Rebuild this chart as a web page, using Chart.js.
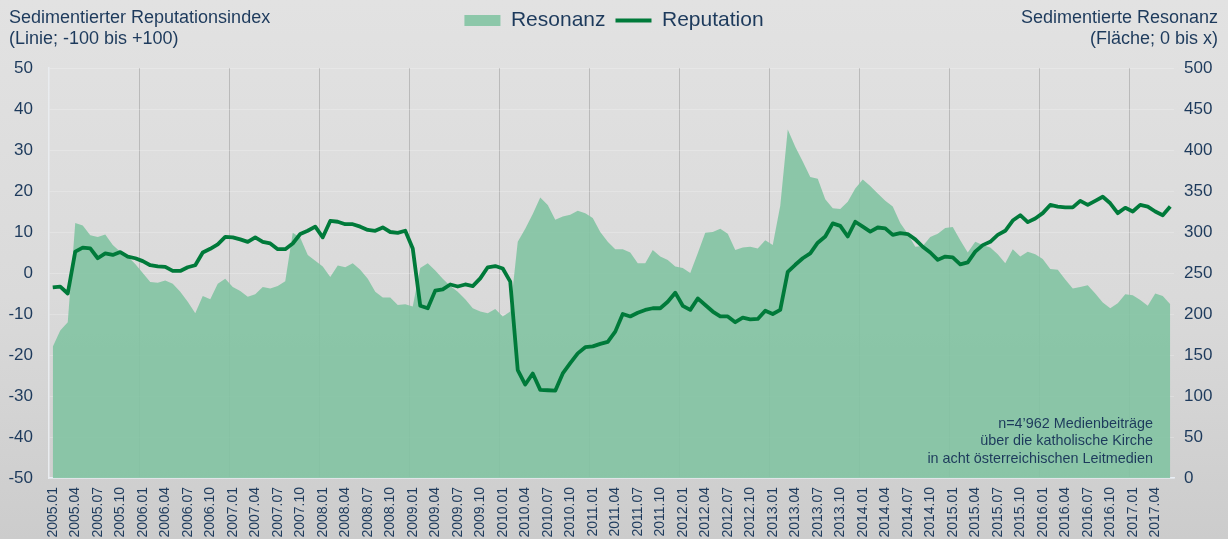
<!DOCTYPE html>
<html><head><meta charset="utf-8">
<script src="https://cdn.jsdelivr.net/npm/chart.js@4.4.0/dist/chart.umd.min.js"></script>
<style>
html,body{margin:0;padding:0;}
body{width:1228px;height:539px;overflow:hidden;background:linear-gradient(to bottom,#e2e2e2 0%,#dadada 55%,#cccccc 100%);}
#wrap{width:1228px;height:539px;position:relative;}
</style></head><body>
<div id="wrap"><canvas id="c" width="1228" height="539"></canvas></div>
<script>
// ---- categories (monthly, 2005.01 – 2017.06)
const firstYear = 2005, lastYear = 2017, lastMonth = 6;
const categories = [];
for (let y = firstYear; y <= lastYear; y++) {
  for (let m = 1; m <= 12; m++) {
    if (y === lastYear && m > lastMonth) break;
    categories.push(y + '.' + String(m).padStart(2, '0'));
  }
}
// months that carry a tick label
const tickMonths = ['01', '04', '07', '10'];
// left axis ticks (Reputation), right axis ticks (Resonanz)
const leftTicks = { min: -50, max: 50, step: 10 };
const rightTicks = { min: 0, max: 500, step: 50 };

// ---- series
const reputation = [
  -3.5, -3.3, -5.0, 5.2, 6.2, 6.0, 3.6, 4.8, 4.4, 5.1, 4.0, 3.6,
  2.9, 1.9, 1.6, 1.5, 0.5, 0.5, 1.4, 1.9, 5.0, 5.9, 7.0, 8.8,
  8.7, 8.2, 7.6, 8.7, 7.6, 7.2, 5.8, 5.8, 7.2, 9.5, 10.3, 11.3,
  8.7, 12.7, 12.5, 11.9, 11.9, 11.3, 10.5, 10.3, 11.1, 10.0, 9.8, 10.3,
  6.0, -8.0, -8.6, -4.3, -4.0, -2.8, -3.3, -2.8, -3.2, -1.3, 1.4, 1.7,
  1.1, -2.1, -23.7, -27.2, -24.5, -28.5, -28.6, -28.7, -24.5, -22.0, -19.6, -18.1,
  -17.9, -17.3, -16.8, -14.3, -10.0, -10.6, -9.7, -9.0, -8.6, -8.6, -7.0, -4.8,
  -8.0, -9.0, -6.2, -7.8, -9.4, -10.6, -10.6, -12.0, -10.9, -11.3, -11.2, -9.2,
  -10.0, -9.0, 0.3, 2.0, 3.6, 4.8, 7.4, 8.9, 12.1, 11.5, 8.9, 12.5,
  11.3, 10.1, 11.1, 10.9, 9.3, 9.7, 9.5, 8.2, 6.4, 5.0, 3.2, 4.0,
  3.8, 2.1, 2.6, 5.2, 6.8, 7.6, 9.3, 10.3, 12.8, 14.1, 12.4, 13.3,
  14.6, 16.6, 16.2, 16.0, 16.0, 17.6, 16.6, 17.6, 18.6, 17.0, 14.6, 15.9,
  15.0, 16.6, 16.2, 15.0, 14.1, 16.2
];
const resonanz = [
  160, 180, 190, 311, 308, 296, 294, 297, 284, 276, 270, 261,
  250, 239, 238, 241, 237, 227, 215, 201, 222, 218, 237, 243,
  233, 228, 221, 224, 233, 231, 234, 240, 299, 293, 272, 265,
  258, 245, 259, 257, 262, 254, 243, 227, 220, 220, 211, 212,
  209, 256, 262, 253, 243, 234, 227, 218, 207, 203, 201, 206,
  197, 203, 288, 304, 322, 342, 333, 315, 319, 321, 326, 323,
  317, 300, 288, 279, 279, 275, 262, 262, 278, 270, 266, 258,
  256, 250, 274, 299, 300, 304, 298, 278, 281, 282, 280, 290,
  284, 332, 425, 404, 386, 367, 365, 340, 329, 328, 337, 353,
  364, 356, 347, 338, 331, 311, 298, 282, 283, 294, 298, 305,
  306, 290, 275, 288, 284, 281, 273, 262, 279, 270, 276, 273,
  267, 255, 254, 242, 231, 233, 235, 225, 214, 207, 213, 224,
  223, 217, 210, 225, 222, 212
];

const leftTitle = ['Sedimentierter Reputationsindex', '(Linie; -100 bis +100)'];
const rightTitle = ['Sedimentierte Resonanz', '(Fläche; 0 bis x)'];
const noteLines = ['n=4’962 Medienbeiträge', 'über die katholische Kirche', 'in acht österreichischen Leitmedien'];

const TEXT = '#1d3a5c';
const FONT = "'Liberation Sans', Arial, sans-serif";
Chart.defaults.font.family = FONT;
Chart.defaults.color = TEXT;

const legendSpace = {
  id: 'legendSpace',
  beforeInit(chart) {
    const lg = chart.legend;
    if (lg && !lg._patched) {
      const orig = lg.fit;
      lg.fit = function () { orig.call(this); this.height = 68; };
      lg._patched = true;
    }
  }
};

const textPlugin = {
  id: 'texts',
  afterDraw(chart) {
    const ctx = chart.ctx;
    ctx.save();
    ctx.fillStyle = TEXT;
    ctx.font = '18px ' + FONT;
    ctx.textBaseline = 'alphabetic';
    ctx.textAlign = 'left';
    ctx.fillText(leftTitle[0], 9, 23);
    ctx.fillText(leftTitle[1], 9, 44);
    ctx.textAlign = 'right';
    ctx.fillText(rightTitle[0], 1218, 23);
    ctx.fillText(rightTitle[1], 1218, 44);
    ctx.font = '14.4px ' + FONT;
    ctx.textBaseline = 'middle';
    const ys = [424, 441.5, 459];
    noteLines.forEach((t, i) => ctx.fillText(t, 1153, ys[i]));
    ctx.restore();
  }
};

new Chart(document.getElementById('c'), {
  type: 'line',
  data: {
    labels: categories,
    datasets: [
      {
        label: 'Resonanz',
        data: resonanz,
        yAxisID: 'y1',
        fill: 'start',
        backgroundColor: 'rgba(127,195,160,0.88)',
        borderColor: 'rgba(0,0,0,0)',
        borderWidth: 0,
        pointRadius: 0,
        pointStyle: 'rect',
        tension: 0,
        order: 2
      },
      {
        label: 'Reputation',
        data: reputation,
        yAxisID: 'y',
        fill: false,
        borderColor: '#007a3a',
        backgroundColor: '#007a3a',
        borderWidth: 3.8,
        borderJoinStyle: 'round',
        pointRadius: 0,
        pointStyle: 'line',
        tension: 0,
        order: 1
      }
    ]
  },
  options: {
    responsive: false,
    animation: false,
    devicePixelRatio: 1,
    layout: { padding: 0 },
    plugins: {
      tooltip: { enabled: false },
      legend: {
        position: 'top',
        align: 'center',
        labels: {
          usePointStyle: true,
          pointStyleWidth: 36,
          boxHeight: 11,
          padding: 10,
          color: TEXT,
          font: { size: 21 },
          sort: (a, b) => a.datasetIndex - b.datasetIndex
        }
      }
    },
    scales: {
      x: {
        type: 'category',
        offset: true,
        grid: {
          offset: true,
          drawTicks: false,
          lineWidth: 1,
          color: (c) => (c.index > 0 && c.index % 12 === 0) ? '#bababa' : 'rgba(0,0,0,0)'
        },
        border: { display: true, color: '#e8eef5', width: 1.5 },
        ticks: {
          autoSkip: false,
          minRotation: 90,
          maxRotation: 90,
          padding: 9,
          font: { size: 14 },
          color: TEXT,
          callback: function (v, i) {
            const lab = categories[i];
            return tickMonths.includes(lab.slice(5)) ? lab : '';
          }
        },
        afterFit: (s) => { s.height = 61; }
      },
      y: {
        position: 'left',
        min: leftTicks.min,
        max: leftTicks.max,
        ticks: { stepSize: leftTicks.step, padding: 16, font: { size: 17 }, color: TEXT },
        grid: { drawTicks: false, color: 'rgba(255,255,255,0.22)' },
        border: { display: true, color: '#e9ecef', width: 1.5 },
        afterFit: (s) => { s.width = 49; }
      },
      y1: {
        position: 'right',
        min: rightTicks.min,
        max: rightTicks.max,
        ticks: { stepSize: rightTicks.step, padding: 10, font: { size: 17 }, color: TEXT },
        grid: { display: false, drawTicks: false },
        border: { display: false },
        afterFit: (s) => { s.width = 54; }
      }
    }
  },
  plugins: [legendSpace, textPlugin]
});
</script>
</body></html>
